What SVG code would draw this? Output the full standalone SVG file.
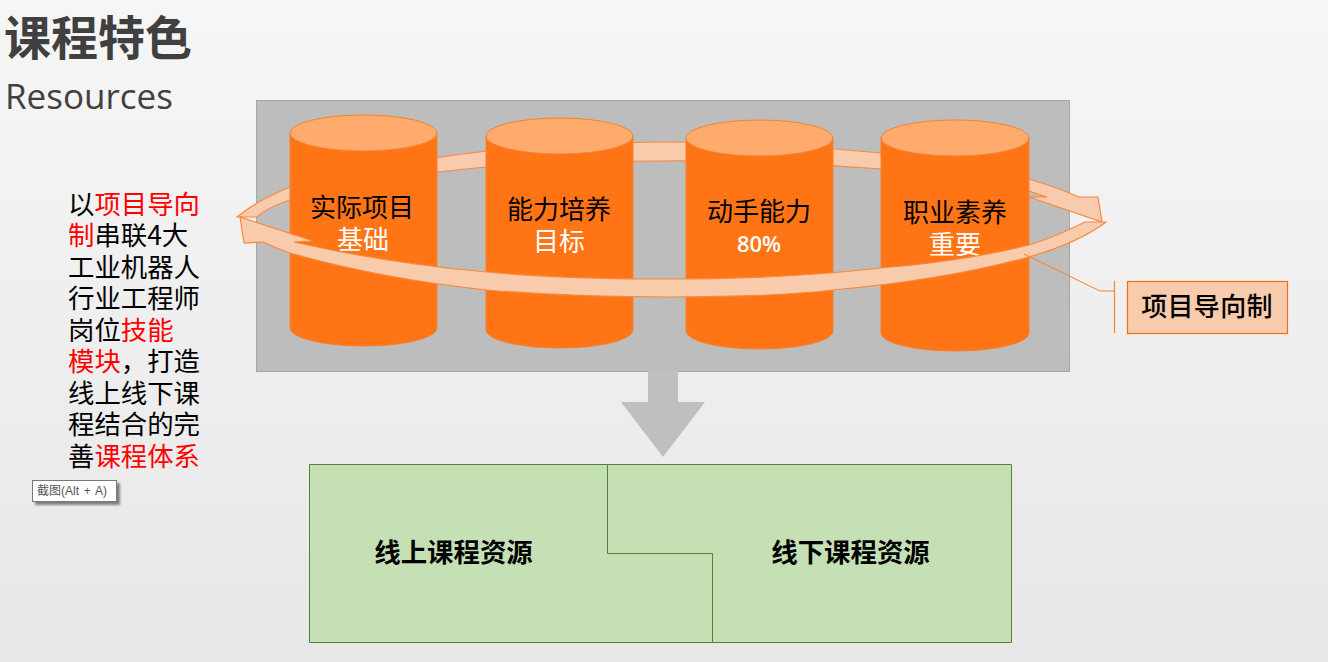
<svg xmlns="http://www.w3.org/2000/svg" width="1328" height="662" viewBox="0 0 1328 662">
<style>
text{font-family:"Noto Sans CJK SC","Liberation Sans",sans-serif}
.cyl{fill:#ff7515;stroke:#f5822f;stroke-width:1}
.top{fill:#ffab6e;stroke:#f5822f;stroke-width:1}
.band{fill:#f8cbad;stroke:#f58a40;stroke-width:1.2;stroke-linejoin:miter}
.green{fill:#c5e0b4;stroke:#548235;stroke-width:1}
.lab{font-size:26px;text-anchor:middle;dominant-baseline:central}
.left{font-size:26.400px;fill:#000}
.red{fill:#f00}
.gt{font-size:26.400px;font-weight:700;text-anchor:middle;fill:#000}
</style>
<defs>
<linearGradient id="bg" x1="0" y1="0" x2="0" y2="1"><stop offset="0" stop-color="#f6f6f6"/><stop offset="1" stop-color="#e7e7e7"/></linearGradient>
<filter id="sh" x="-10%" y="-20%" width="125%" height="150%"><feDropShadow dx="3" dy="3" stdDeviation="1.2" flood-color="#555" flood-opacity=".7"/></filter>
</defs>
<rect width="1328" height="662" fill="url(#bg)"/>
<text x="4" y="55" font-size="47" font-weight="700" fill="#404040">课程特色</text>
<text x="5" y="109" font-size="35" fill="#404040" style="font-family:'Open Sans','Liberation Sans',sans-serif">Resources</text>
<g id="intro">
<text class="left" x="68" y="214">以<tspan class="red">项目导向</tspan></text>
<text class="left" x="68" y="245"><tspan class="red">制</tspan>串联4大</text>
<text class="left" x="68" y="277">工业机器人</text>
<text class="left" x="68" y="308">行业工程师</text>
<text class="left" x="68" y="340">岗位<tspan class="red">技能</tspan></text>
<text class="left" x="68" y="371"><tspan class="red">模块</tspan>，打造</text>
<text class="left" x="68" y="403">线上线下课</text>
<text class="left" x="68" y="434">程结合的完</text>
<text class="left" x="68" y="466">善<tspan class="red">课程体系</tspan></text>
</g>
<g id="tooltip">
<rect x="32.500" y="480.500" width="84" height="21" fill="#fff" stroke="#777" filter="url(#sh)"/>
<text x="37" y="495" font-size="12" fill="#555" style="font-family:'Liberation Sans','Noto Sans CJK SC',sans-serif" word-spacing="1.500">截图(Alt + A)</text>
</g>
<g id="panel"><rect x="256.500" y="100.500" width="813" height="271" fill="#bdbdbd" stroke="#a6a6a6"/></g>
<g id="connectors">
<path id="ring-back" class="band" d="M237 217 Q258 200 290 187 Q360 166 487 151 Q570 143 660 142 Q770 142 881 153 Q970 162 1029 179 Q1056 187 1079 197 L1098 197 L1102 222 L1029 197 L1047 197 Q1040 195 1029 191 Q960 172 881 169 Q770 160 660 161 Q570 161 487 167 Q360 178 290 200 Q268 207 257 217 Z"/>
</g>
<g id="cyl1"><path class="cyl" d="M290 133V328A73.500 18 0 0 0 437 328V133Z"/><ellipse class="top" cx="363.500" cy="133" rx="73.500" ry="18"/></g>
<g id="cyl2"><path class="cyl" d="M486 136V330A73.500 18 0 0 0 633 330V136Z"/><ellipse class="top" cx="559.500" cy="136" rx="73.500" ry="18"/></g>
<g id="cyl3"><path class="cyl" d="M686 138V331A73.500 18 0 0 0 833 331V138Z"/><ellipse class="top" cx="759.500" cy="138" rx="73.500" ry="18"/></g>
<g id="cyl4"><path class="cyl" d="M881 138V333A74 18 0 0 0 1029 333V138Z"/><ellipse class="top" cx="955" cy="138" rx="74" ry="18"/></g>
<g id="cyl-labels">
<text class="lab" x="362" y="205" fill="#000">实际项目</text><text class="lab" x="363" y="237" fill="#fff">基础</text>
<text class="lab" x="559" y="207" fill="#000">能力培养</text><text class="lab" x="559" y="239" fill="#fff">目标</text>
<text class="lab" x="759" y="209" fill="#000">动手能力</text><text class="lab" x="759" y="243" fill="#fff" style="font-size:22px;font-family:'Open Sans','Liberation Sans',sans-serif;font-weight:600">80%</text>
<text class="lab" x="955" y="210" fill="#000">职业素养</text><text class="lab" x="955" y="242" fill="#fff">重要</text>
</g>
<g id="connectors-front">
<path id="ring-front" class="band" d="M1106 222 L1085 222 C1065 232 1045 240 1029 245 C985 256 930 264 881 268 C820 275 750 279 670 279 C600 279 540 277 487 272 C420 266 350 255 294 242 L313 241 L240 217 L244 243 L263 242 C272 246 280 250 290 253 C350 270 420 283 487 290 C550 295 610 297 670 297 C730 297 790 295 833 290 C900 284 970 273 1029 257 C1060 248 1085 238 1106 222Z"/>
<path d="M1024 254 L1100 291 L1114 291" fill="none" stroke="#f5822f" stroke-width="1"/>
<path d="M1114.500 281V333" fill="none" stroke="#f5822f" stroke-width="1.200"/>
</g>
<g id="callout">
<rect x="1127.500" y="281.500" width="160" height="52" fill="#f8cbad" stroke="#f07010" stroke-width="1.200"/>
<text class="lab" x="1207" y="304" fill="#000" style="font-weight:500" letter-spacing="0.300">项目导向制</text>
</g>
<g id="down-arrow"><path d="M648 371H678V402H705L663 457L621 402H648Z" fill="#bfbfbf"/></g>
<g id="online"><path class="green" d="M309.500 464.500H607.500V553.500H712.500V642.500H309.500Z"/><text class="gt" x="453.500" y="562">线上课程资源</text></g>
<g id="offline"><path class="green" d="M607.500 464.500H1011.500V642.500H712.500V553.500H607.500Z"/><text class="gt" x="850.500" y="562">线下课程资源</text></g>
</svg>
